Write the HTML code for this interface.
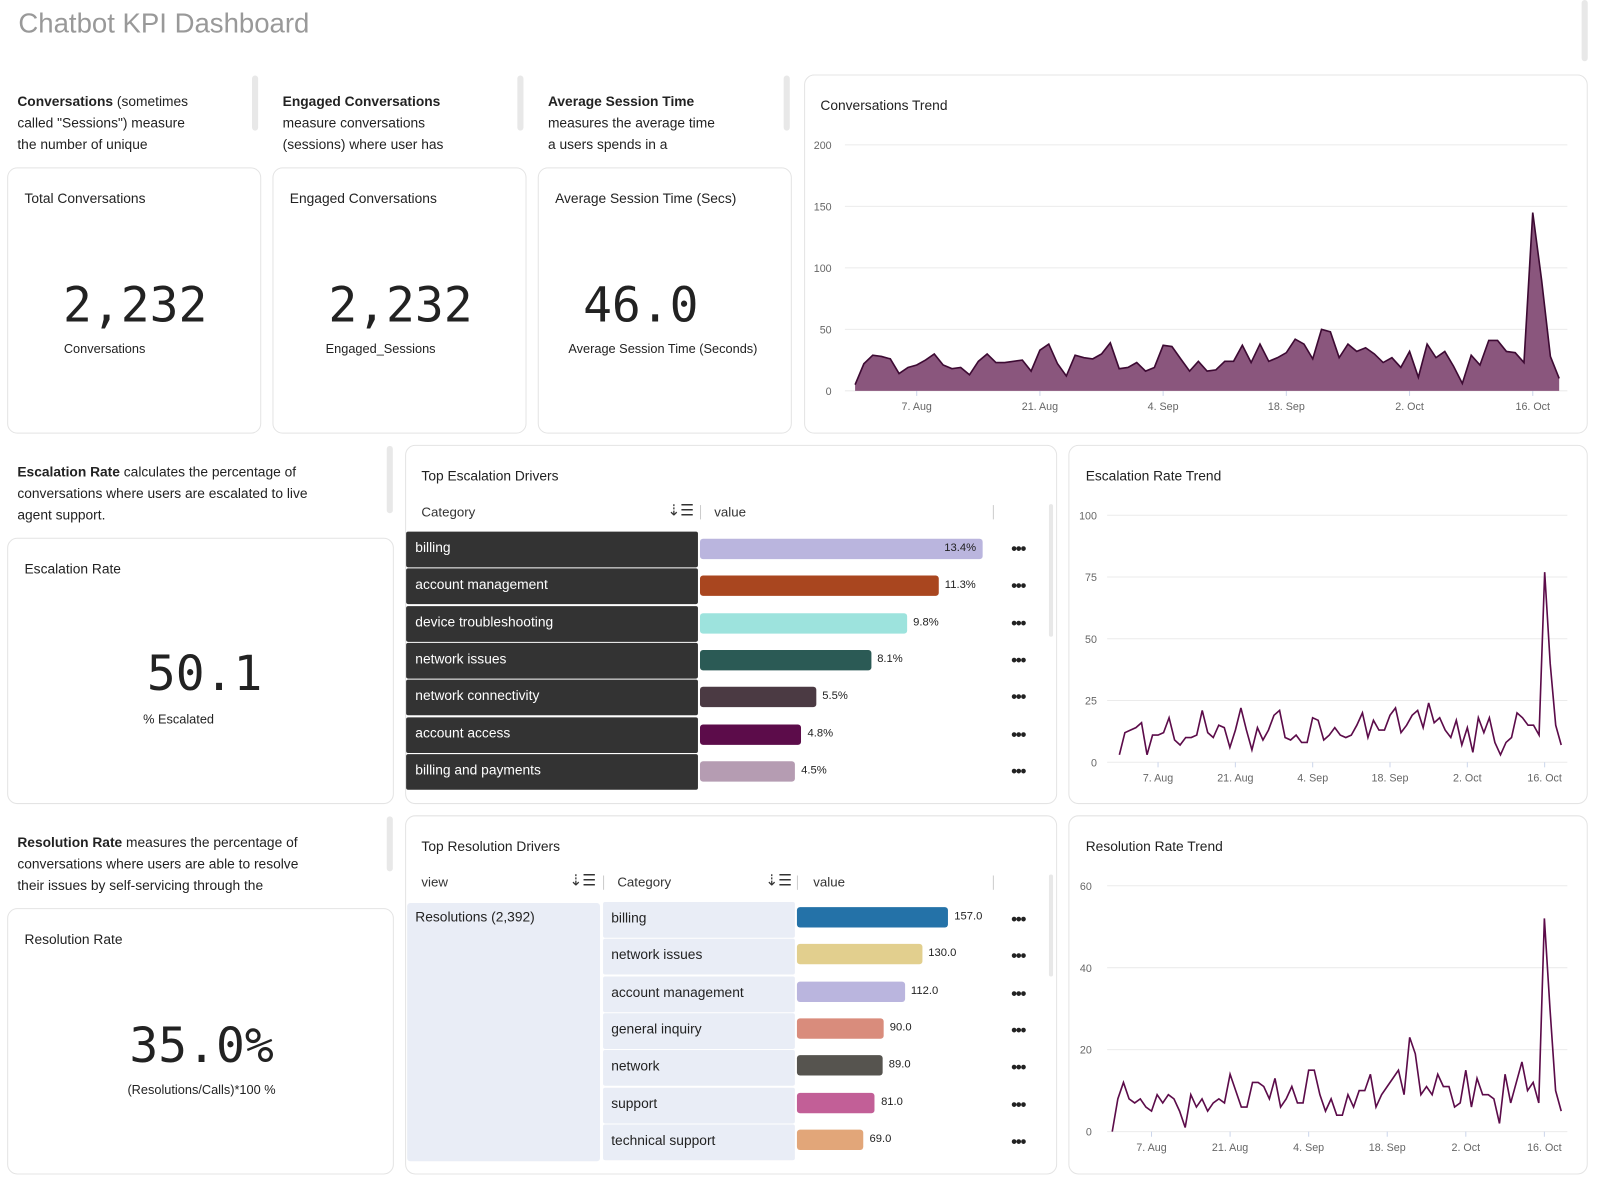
<!DOCTYPE html>
<html><head><meta charset="utf-8">
<style>
*{box-sizing:border-box;margin:0;padding:0}
body{width:1600px;height:1181px;background:#fff;position:relative;overflow:hidden;font-family:"Liberation Sans",sans-serif;color:#222}
#wrap{position:absolute;left:0;top:0;width:1568px;height:1158px;transform:scale(1.0204);transform-origin:0 0}
.abs{position:absolute}
.card{position:absolute;border:1px solid #e4e4e4;border-radius:10px;background:#fff}
.title{position:absolute;font-size:13.5px;color:#222}
.desc{position:absolute;font-size:13.5px;line-height:21px;color:#222}
.desc b{font-weight:bold}
.sb{position:absolute;width:6px;background:#e8e8e8;border-radius:3px}
.big{position:absolute;font-family:"DejaVu Sans Mono","Liberation Mono",monospace;font-size:47px;color:#222;text-align:center}
.sub{position:absolute;font-size:12.5px;color:#222;text-align:center}
.hdr{position:absolute;font-size:13px;color:#333}
.sep{position:absolute;width:1px;height:14px;background:#ccc}
.cell{position:absolute;font-size:13.5px}
</style></head>
<body>
<div id="wrap">
<div class="abs" style="left:18px;top:8px;font-size:27px;color:#999">Chatbot KPI Dashboard</div>
<div class="sb" style="left:1550px;top:0;height:60px"></div>

<div class="desc" style="left:17px;top:89px;width:230px"><b>Conversations</b> (sometimes<br>called "Sessions") measure<br>the number of unique</div>
<div class="sb" style="left:247px;top:74px;height:54px"></div>
<div class="desc" style="left:277px;top:89px;width:230px"><b>Engaged Conversations</b><br>measure conversations<br>(sessions) where user has</div>
<div class="sb" style="left:507px;top:74px;height:54px"></div>
<div class="desc" style="left:537px;top:89px;width:230px"><b>Average Session Time</b><br>measures the average time<br>a users spends in a</div>
<div class="sb" style="left:768px;top:74px;height:54px"></div>

<div class="card" style="left:7px;top:164px;width:249px;height:261px">
 <div class="title" style="left:16px;top:22px">Total Conversations</div>
 <div class="big" style="left:0;width:249px;top:107px">2,232</div>
 <div class="sub" style="left:0;width:189px;top:170px">Conversations</div>
</div>
<div class="card" style="left:267px;top:164px;width:249px;height:261px">
 <div class="title" style="left:16px;top:22px">Engaged Conversations</div>
 <div class="big" style="left:0;width:249px;top:107px">2,232</div>
 <div class="sub" style="left:0;width:210px;top:170px">Engaged_Sessions</div>
</div>
<div class="card" style="left:527px;top:164px;width:249px;height:261px">
 <div class="title" style="left:16px;top:22px">Average Session Time (Secs)</div>
 <div class="big" style="left:0;width:200px;top:107px">46.0</div>
 <div class="sub" style="left:29px;top:170px">Average Session Time (Seconds)</div>
</div>
<div class="card" style="left:788px;top:73px;width:768px;height:352px">
 <div class="title" style="left:15px;top:22px">Conversations Trend</div>
</div>

<div class="desc" style="left:17px;top:452px;width:330px"><b>Escalation Rate</b> calculates the percentage of<br>conversations where users are escalated to live<br>agent support.</div>
<div class="sb" style="left:379px;top:437px;height:66px"></div>
<div class="card" style="left:7px;top:527px;width:379px;height:261px">
 <div class="title" style="left:16px;top:22px">Escalation Rate</div>
 <div class="big" style="left:0;width:385px;top:105px">50.1</div>
 <div class="sub" style="left:0;width:334px;top:170px">% Escalated</div>
</div>
<div class="card" style="left:397px;top:436px;width:639px;height:352px">
 <div class="title" style="left:15px;top:22px">Top Escalation Drivers</div>
 <div class="hdr" style="left:15px;top:57px">Category</div>
 <div class="hdr" style="left:256px;top:54px;font-size:15px">⇣☰</div>
 <div class="sep" style="left:288px;top:58px"></div>
 <div class="hdr" style="left:302px;top:57px">value</div>
 <div class="sep" style="left:575px;top:58px"></div>
 <div class="sb" style="left:630px;top:57px;width:4px;height:130px"></div>
</div>
<div class="card" style="left:1047px;top:436px;width:509px;height:352px">
 <div class="title" style="left:16px;top:22px">Escalation Rate Trend</div>
</div>

<div class="desc" style="left:17px;top:815px;width:330px"><b>Resolution Rate</b> measures the percentage of<br>conversations where users are able to resolve<br>their issues by self-servicing through the</div>
<div class="sb" style="left:379px;top:800px;height:54px"></div>
<div class="card" style="left:7px;top:890px;width:379px;height:261px">
 <div class="title" style="left:16px;top:22px">Resolution Rate</div>
 <div class="big" style="left:0;width:379px;top:107px">35.0%</div>
 <div class="sub" style="left:0;width:379px;top:170px">(Resolutions/Calls)*100 %</div>
</div>
<div class="card" style="left:397px;top:799px;width:639px;height:352px">
 <div class="title" style="left:15px;top:22px">Top Resolution Drivers</div>
 <div class="hdr" style="left:15px;top:57px">view</div>
 <div class="hdr" style="left:160px;top:54px;font-size:15px">⇣☰</div>
 <div class="sep" style="left:193px;top:58px"></div>
 <div class="hdr" style="left:207px;top:57px">Category</div>
 <div class="hdr" style="left:352px;top:54px;font-size:15px">⇣☰</div>
 <div class="sep" style="left:383px;top:58px"></div>
 <div class="hdr" style="left:399px;top:57px">value</div>
 <div class="sep" style="left:575px;top:58px"></div>
 <div class="sb" style="left:630px;top:57px;width:4px;height:100px"></div>
 <div class="abs" style="left:1px;top:85px;width:189px;height:253px;background:#e9edf6;border-radius:3px"></div>
 <div class="cell" style="left:9px;top:91px">Resolutions (2,392)</div>
</div>
<div class="card" style="left:1047px;top:799px;width:509px;height:352px">
 <div class="title" style="left:16px;top:22px">Resolution Rate Trend</div>
</div>

<div id="tables"></div>
<svg id="ov" width="1568" height="1158" style="position:absolute;left:0;top:0"></svg>
</div>

<script>
// ---- data ----
const dateTicks = ["7. Aug","21. Aug","4. Sep","18. Sep","2. Oct","16. Oct"];
const dateTickIdx = [7,21,35,49,63,77];
const convValues = [5,22,29,28,26,14,19,21,25,30,21,18,19,13,24,30,23,23,24,25,16,33,38,22,12,29,27,26,30,39,18,19,23,16,19,37,36,26,16,24,16,17,24,24,37,23,38,24,27,31,42,38,26,50,48,27,38,32,35,30,23,27,19,32,11,38,27,32,20,6,29,21,41,41,32,31,23,145,90,28,10];
const convTicks = [0,50,100,150,200];
const escValues = [3,12,13,14,16,3,11,11,12,18,9,7,10,10,11,21,12,10,15,14,6,13,22,13,5,14,9,13,19,21,10,9,11,8,8,18,17,9,11,14,11,10,11,15,20,10,17,13,13,19,22,12,15,19,21,14,24,16,18,13,10,17,7,14,4,18,12,18,8,3,8,10,20,18,15,15,11,77,40,15,7];
const escTicks = [0,25,50,75,100];
const resValues = [0,8,12,8,7,8,6,5,9,7,9,8,5,1,9,6,8,5,7,8,7,14,10,6,6,12,12,11,8,13,6,8,11,7,7,15,15,9,5,8,4,4,9,6,10,10,14,6,9,11,13,15,9,23,19,9,11,9,14,11,11,6,7,15,6,13,9,9,8,2,14,7,12,17,10,12,7,52,30,10,5];
const resTicks = [0,20,40,60];
const escCategories = ["billing","account management","device troubleshooting","network issues","network connectivity","account access","billing and payments"];
const escShares = [13.4,11.3,9.8,8.1,5.5,4.8,4.5];
const escColors = ["#bab5de","#a9461f","#9de3dd","#2b5a55","#4b3a43","#5c0c4a","#b59cb2"];
const resCategories = ["billing","network issues","account management","general inquiry","network","support","technical support"];
const resCounts = [157,130,112,90,89,81,69];
const resColors = ["#2472a8","#e2cf8e","#bab5de","#d98c7c","#56544f","#c25f97","#e2a679"];

const NS="http://www.w3.org/2000/svg";
const ov=document.getElementById('ov');
function mk(tag,attrs,parent){const e=document.createElementNS(NS,tag);for(const k in attrs)e.setAttribute(k,attrs[k]);(parent||ov).appendChild(e);return e;}

function chart(cfg){
  const g=mk('g',{});
  
  
  const n=81;
  const xs=i=>cfg.x0+(cfg.x1-cfg.x0)*i/(n-1);
  const ys=v=>cfg.yb-(cfg.yb-cfg.yt)*v/cfg.ymax;
  cfg.ticks.forEach(t=>{
    const l=mk('line',{x1:cfg.gx0,x2:cfg.gx1,y1:ys(t),y2:ys(t),stroke:'#ebebeb','stroke-width':1},g);
    
    
    const tx=mk('text',{x:cfg.lx,y:ys(t)+4,'text-anchor':'end','font-size':10.5,fill:'#666','font-family':'Liberation Sans, sans-serif'},g);
    tx.textContent=t;
    
    
  });
  dateTickIdx.forEach((d,i)=>{
    mk('line',{x1:xs(d),x2:xs(d),y1:cfg.yb,y2:cfg.yb+5,stroke:'#ccd6eb'},g);
    const tx=mk('text',{x:xs(d),y:cfg.yb+19,'text-anchor':'middle','font-size':10.5,fill:'#666','font-family':'Liberation Sans, sans-serif'},g);
    tx.textContent=dateTicks[i];
    
    
  });
  let d=cfg.values.map((v,i)=>(i?'L':'M')+xs(i).toFixed(1)+','+ys(v).toFixed(1)).join('');
  if(cfg.area){
    const a=mk('path',{d:d+'L'+xs(cfg.values.length-1)+','+cfg.yb+'L'+xs(0)+','+cfg.yb+'Z',fill:'#8a567d'},g);
    
    
  }
  const p=mk('path',{d:d,fill:'none',stroke:cfg.area?'#3d0a33':'#5c0c4a','stroke-width':1.6},g);
  
  
}
chart({name:'conversations-trend',values:convValues,ticks:convTicks,ymax:200,x0:838,x1:1528,yt:142,yb:383,gx0:828,gx1:1536,lx:815,area:true});
chart({name:'escalation-trend',values:escValues,ticks:escTicks,ymax:100,x0:1097,x1:1530,yt:505,yb:747,gx0:1085,gx1:1536,lx:1075,area:false});
chart({name:'resolution-trend',values:resValues,ticks:resTicks,ymax:60,x0:1090,x1:1530,yt:868,yb:1109,gx0:1085,gx1:1536,lx:1070,area:false});

const tb=document.getElementById('tables');
function div(style,text,parent){const e=document.createElement('div');e.style.cssText='position:absolute;'+style;if(text!==undefined)e.textContent=text;(parent||tb).appendChild(e);return e;}
escCategories.forEach((c,i)=>{
  const y=521+i*36.3;
  const cell=div(`left:398px;top:${y}px;width:286px;height:35px;background:#333;border-radius:2px;color:#fff;font-size:13.5px;padding:8px 9px`,c);
  
  
  const w=escShares[i]*20.7;
  const bar=div(`left:686px;top:${y+7}px;width:${w}px;height:20px;background:${escColors[i]};border-radius:3px`);
  
  
  const lbl=div(`top:${y+10}px;font-size:11px;color:#222;`+(i==0?`left:${686+w-38}px`:`left:${692+w}px`),escShares[i].toFixed(1)+'%');
  
  
  const dt=div(`left:991px;top:${y+9}px;font-size:16px;font-weight:bold;letter-spacing:-1px`,'•••');
  
  
});
resCategories.forEach((c,i)=>{
  const y=884+i*36.3;
  const cell=div(`left:591px;top:${y}px;width:188px;height:35px;background:#e9edf6;border-radius:2px;color:#222;font-size:13.5px;padding:8px 8px`,c);
  
  
  const w=resCounts[i]*0.944;
  const bar=div(`left:781px;top:${y+5}px;width:${w}px;height:20px;background:${resColors[i]};border-radius:3px`);
  
  
  const lbl=div(`top:${y+8}px;left:${787+w}px;font-size:11px;color:#222`,resCounts[i].toFixed(1));
  
  
  const dt=div(`left:991px;top:${y+9}px;font-size:16px;font-weight:bold;letter-spacing:-1px`,'•••');
  
  
});
</script>
</body></html>
